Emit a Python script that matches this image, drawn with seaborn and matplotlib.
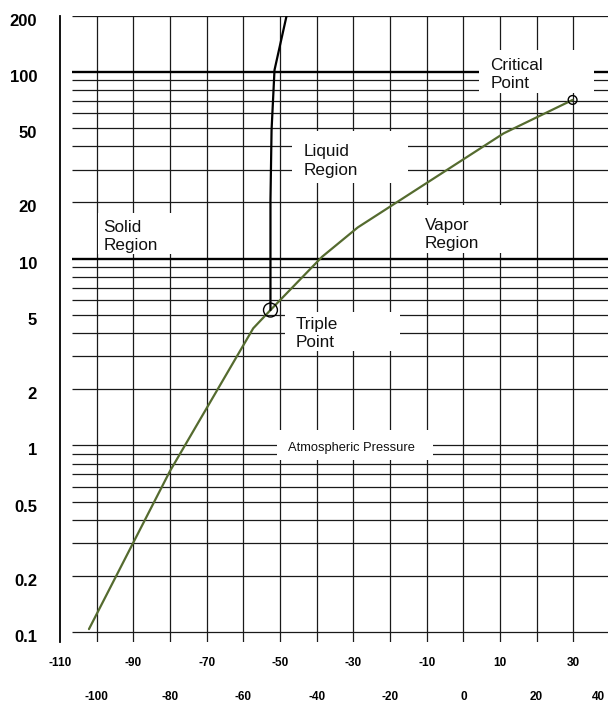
import matplotlib
matplotlib.use('Agg')
import matplotlib.pyplot as plt
import matplotlib.transforms as mtrans
from matplotlib.patches import Rectangle
import seaborn as sns

# ---- data (temperature in C, pressure in atm) ----
# sublimation / boiling curve
vap_temp = [-102.1, -80.0, -57.3, -52.6, -38.5, -28.8, 11.0, 29.8]
vap_press = [0.104, 0.73, 4.24, 5.31, 10.25, 14.7, 46.9, 70.8]

# melting curve
melt_temp = [-52.6, -52.6, -52.3, -51.5, -48.2]
melt_press = [5.31, 20.6, 48.9, 102.3, 200]

triple_temp = [-52.6]
triple_press = [5.31]
crit_temp = [29.8]
crit_press = [70.8]

y_ticks = [0.1, 0.2, 0.5, 1, 2, 5, 10, 20, 50, 100, 200]
y_labels = ['0.1', '0.2', '0.5', '1', '2', '5', '10', '20', '50', '100', '200']
x_ticks_top = [-110, -90, -70, -50, -30, -10, 10, 30]
x_ticks_bottom = [-100, -80, -60, -40, -20, 0, 20, 40]

# horizontal rulings of the log paper
h_grid = [k * 10.0 ** e for e in (-1, 0, 1) for k in range(1, 10)] + [100, 200]
h_grid_heavy = [10, 100]

# region labels: text, left x, baseline y of the last line
labels = [
    ('Solid\nRegion', -98.1, 11.14),
    ('Liquid\nRegion', -43.5, 28.17),
    ('Vapor\nRegion', -10.6, 11.37),
    ('Triple\nPoint', -45.8, 3.355),
    ('Critical\nPoint', 7.4, 81.7),
]
# white boxes behind the labels: x0, x1, y0, y1
boxes = [
    (-99.7, -70.3, 10.6, 17.6),
    (-46.6, -15.2, 25.4, 48.3),
    (-13.6, 11.5, 10.7, 19.4),
    (-48.5, -17.4, 3.21, 5.19),
    (4.4, 35.7, 77.1, 131.0),
    (-50.9, -8.15, 0.836, 1.211),
]

sns.set_theme(style='white')
plt.rcParams['font.family'] = ['Liberation Sans', 'DejaVu Sans']

fig = plt.figure(figsize=(6.08, 7.03), dpi=100)
ax = fig.add_axes([60 / 608, 1 - 642 / 703, 550 / 608, (642 - 15.7) / 703])
ax.set_yscale('log')
ax.set_xlim(-110, 40)
ax.set_ylim(0.0887, 200)

# vertical rulings
for xv in x_ticks_top[1:] + x_ticks_bottom:
    ax.axvline(xv, color='#1a1a1a', lw=0.9, zorder=1)
# horizontal rulings
ax.hlines([v for v in h_grid if v not in h_grid_heavy], -106.7, 40,
          color='#1a1a1a', lw=0.9, zorder=1)
ax.hlines(h_grid_heavy, -106.7, 40, color='black', lw=1.7, zorder=1)

for x0, x1, y0, y1 in boxes:
    ax.add_patch(Rectangle((x0, y0), x1 - x0, y1 - y0, facecolor='white',
                           edgecolor='none', zorder=2))

for txt, tx, ty in labels:
    ax.text(tx, ty, txt, fontsize=12.3, va='baseline', ha='left',
            linespacing=1.27, color='#111111', zorder=3)
ax.text(-47.9, 0.938, 'Atmospheric Pressure', fontsize=9.3, va='baseline',
        ha='left', color='#111111', zorder=3)

sns.lineplot(x=vap_temp, y=vap_press, sort=False, estimator=None,
             color='#556b2f', lw=1.6, ax=ax, zorder=4)
sns.lineplot(x=melt_temp, y=melt_press, sort=False, estimator=None,
             color='black', lw=1.6, ax=ax, zorder=4)
ax.scatter(triple_temp, triple_press, s=100, facecolors='none',
           edgecolors='black', linewidths=1, zorder=5)
ax.scatter(crit_temp, crit_press, s=40, facecolors='none',
           edgecolors='black', linewidths=1, zorder=5)

# axes / ticks
for side in ['top', 'right', 'bottom']:
    ax.spines[side].set_visible(False)
ax.spines['left'].set_color('black')
ax.spines['left'].set_linewidth(1.3)
ax.grid(False)

ax.yaxis.set_minor_locator(matplotlib.ticker.NullLocator())
ax.set_yticks(y_ticks)
ax.set_yticklabels(y_labels, fontweight='bold')
ax.tick_params(axis='y', length=0, pad=16.5, labelsize=12, labelcolor='black')

ax.set_xticks(x_ticks_top)
ax.set_xticklabels([str(v) for v in x_ticks_top], fontweight='bold')
ax.set_xticks(x_ticks_bottom, minor=True)
ax.set_xticklabels([str(v) for v in x_ticks_bottom], minor=True, fontweight='bold')
ax.tick_params(axis='x', which='major', length=0, pad=11, labelsize=8.5, labelcolor='black')
ax.tick_params(axis='x', which='minor', length=0, pad=35, labelsize=8.5, labelcolor='black')

# small nudges so labels sit where the original has them
shift_down = mtrans.ScaledTranslation(0, -0.04, fig.dpi_scale_trans)
for lbl in ax.get_yticklabels():
    lbl.set_transform(lbl.get_transform() + shift_down)
last = ax.xaxis.get_minor_ticks()[-1].label1
last.set_transform(last.get_transform() + mtrans.ScaledTranslation(-0.12, 0, fig.dpi_scale_trans))

ax.set_xlabel('')
ax.set_ylabel('')
if ax.get_legend():
    ax.get_legend().remove()

fig.savefig('out.png', dpi=100, facecolor='white')
